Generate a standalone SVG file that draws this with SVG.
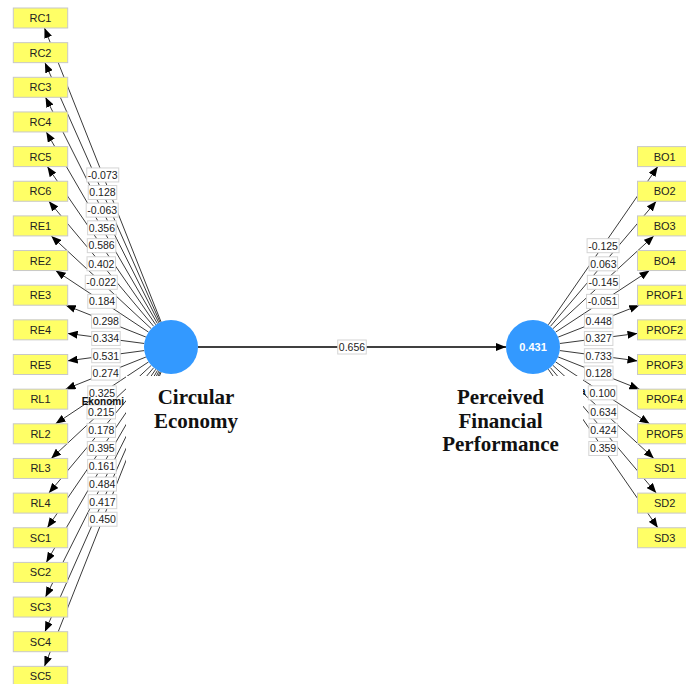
<svg xmlns="http://www.w3.org/2000/svg" width="686" height="684" viewBox="0 0 686 684">
<style>
.bg{fill:#ffffff}
.ind rect{fill:#ffff66;stroke:#c8c8c8;stroke-width:1}
.ind text{font-family:"Liberation Sans",Arial,sans-serif;font-size:11px;fill:#222;text-anchor:middle}
.edge{stroke:#3a3a3a;stroke-width:1;fill:none}
.main{stroke:#000;stroke-width:1.6;fill:none}
.lbl rect{fill:#fff;stroke:#d4d4d4;stroke-width:1}
.lbl text{font-family:"Liberation Sans",Arial,sans-serif;font-size:10.5px;fill:#222;text-anchor:middle}
.lv{fill:#3399ff}
.lvname{font-family:"Liberation Serif","Times New Roman",serif;font-weight:bold;font-size:21px;fill:#111;text-anchor:middle}
.cover{fill:#ffffff}
.ghost{font-family:"Liberation Sans",Arial,sans-serif;font-weight:bold;font-size:10px;fill:#111}
</style>
<defs>
<marker id="ah" markerUnits="userSpaceOnUse" markerWidth="10" markerHeight="8" refX="10" refY="4" orient="auto"><path d="M0,0 L10,4 L0,8 z" fill="#000"/></marker>
</defs>
<rect class="bg" x="0" y="0" width="686" height="684"/>
<g id="connectors">
<line class="edge" marker-end="url(#ah)" x1="161.04" y1="321.90" x2="44.47" y2="28.0"/>
<line class="edge" marker-end="url(#ah)" x1="160.06" y1="322.32" x2="44.94" y2="62.65"/>
<line class="edge" marker-end="url(#ah)" x1="158.88" y1="322.87" x2="45.52" y2="97.3"/>
<line class="edge" marker-end="url(#ah)" x1="157.46" y1="323.64" x2="46.29" y2="131.95"/>
<line class="edge" marker-end="url(#ah)" x1="155.74" y1="324.73" x2="47.35" y2="166.6"/>
<line class="edge" marker-end="url(#ah)" x1="153.66" y1="326.30" x2="48.88" y2="201.25"/>
<line class="edge" marker-end="url(#ah)" x1="151.21" y1="328.63" x2="51.28" y2="235.9"/>
<line class="edge" marker-end="url(#ah)" x1="148.49" y1="332.09" x2="55.60" y2="270.55"/>
<line class="edge" marker-end="url(#ah)" x1="145.90" y1="337.04" x2="65.70" y2="305.2"/>
<line class="edge" marker-end="url(#ah)" x1="144.23" y1="343.48" x2="67.7" y2="333.42"/>
<line class="edge" marker-end="url(#ah)" x1="144.24" y1="350.59" x2="67.7" y2="360.85"/>
<line class="edge" marker-end="url(#ah)" x1="145.93" y1="357.02" x2="65.53" y2="389.15"/>
<line class="edge" marker-end="url(#ah)" x1="148.52" y1="361.95" x2="55.53" y2="423.8"/>
<line class="edge" marker-end="url(#ah)" x1="151.23" y1="365.39" x2="51.24" y2="458.45"/>
<line class="edge" marker-end="url(#ah)" x1="153.68" y1="367.71" x2="48.87" y2="493.1"/>
<line class="edge" marker-end="url(#ah)" x1="155.76" y1="369.28" x2="47.34" y2="527.75"/>
<line class="edge" marker-end="url(#ah)" x1="157.47" y1="370.37" x2="46.29" y2="562.4"/>
<line class="edge" marker-end="url(#ah)" x1="158.89" y1="371.13" x2="45.52" y2="597.05"/>
<line class="edge" marker-end="url(#ah)" x1="160.07" y1="371.69" x2="44.92" y2="631.7"/>
<line class="edge" marker-end="url(#ah)" x1="161.05" y1="372.10" x2="44.47" y2="666.35"/>
<line class="edge" marker-end="url(#ah)" x1="548.36" y1="324.79" x2="657.79" y2="166.6"/>
<line class="edge" marker-end="url(#ah)" x1="550.43" y1="326.38" x2="656.24" y2="201.25"/>
<line class="edge" marker-end="url(#ah)" x1="552.87" y1="328.72" x2="653.82" y2="235.9"/>
<line class="edge" marker-end="url(#ah)" x1="555.57" y1="332.18" x2="649.46" y2="270.55"/>
<line class="edge" marker-end="url(#ah)" x1="558.13" y1="337.12" x2="639.27" y2="305.2"/>
<line class="edge" marker-end="url(#ah)" x1="559.77" y1="343.51" x2="637.5" y2="333.39"/>
<line class="edge" marker-end="url(#ah)" x1="559.76" y1="350.56" x2="637.5" y2="360.89"/>
<line class="edge" marker-end="url(#ah)" x1="558.1" y1="356.94" x2="639.44" y2="389.15"/>
<line class="edge" marker-end="url(#ah)" x1="555.54" y1="361.86" x2="649.53" y2="423.8"/>
<line class="edge" marker-end="url(#ah)" x1="552.85" y1="365.3" x2="653.86" y2="458.45"/>
<line class="edge" marker-end="url(#ah)" x1="550.41" y1="367.64" x2="656.26" y2="493.1"/>
<line class="edge" marker-end="url(#ah)" x1="548.34" y1="369.22" x2="657.8" y2="527.75"/>
<line class="main" marker-end="url(#ah)" x1="198" y1="347" x2="506" y2="347"/>
<g class="lbl">
<g transform="translate(102.76,174.95)"><rect x="-16" y="-7" width="32" height="14"/><text y="3.8">-0.073</text></g>
<g transform="translate(102.5,192.49)"><rect x="-14.25" y="-7" width="28.5" height="14"/><text y="3.8">0.128</text></g>
<g transform="translate(102.2,210.09)"><rect x="-16" y="-7" width="32" height="14"/><text y="3.8">-0.063</text></g>
<g transform="translate(101.88,227.8)"><rect x="-14.25" y="-7" width="28.5" height="14"/><text y="3.8">0.356</text></g>
<g transform="translate(101.55,245.67)"><rect x="-14.25" y="-7" width="28.5" height="14"/><text y="3.8">0.586</text></g>
<g transform="translate(101.27,263.78)"><rect x="-14.25" y="-7" width="28.5" height="14"/><text y="3.8">0.402</text></g>
<g transform="translate(101.25,282.27)"><rect x="-16" y="-7" width="32" height="14"/><text y="3.8">-0.022</text></g>
<g transform="translate(102.05,301.32)"><rect x="-14.25" y="-7" width="28.5" height="14"/><text y="3.8">0.184</text></g>
<g transform="translate(105.8,321.12)"><rect x="-14.25" y="-7" width="28.5" height="14"/><text y="3.8">0.298</text></g>
<g transform="translate(105.97,338.45)"><rect x="-14.25" y="-7" width="28.5" height="14"/><text y="3.8">0.334</text></g>
<g transform="translate(105.97,355.72)"><rect x="-14.25" y="-7" width="28.5" height="14"/><text y="3.8">0.531</text></g>
<g transform="translate(105.73,373.09)"><rect x="-14.25" y="-7" width="28.5" height="14"/><text y="3.8">0.274</text></g>
<g transform="translate(102.03,392.88)"><rect x="-14.25" y="-7" width="28.5" height="14"/><text y="3.8">0.325</text></g>
<g transform="translate(101.24,411.92)"><rect x="-14.25" y="-7" width="28.5" height="14"/><text y="3.8">0.215</text></g>
<g transform="translate(101.28,430.41)"><rect x="-14.25" y="-7" width="28.5" height="14"/><text y="3.8">0.178</text></g>
<g transform="translate(101.55,448.52)"><rect x="-14.25" y="-7" width="28.5" height="14"/><text y="3.8">0.395</text></g>
<g transform="translate(101.88,466.39)"><rect x="-14.25" y="-7" width="28.5" height="14"/><text y="3.8">0.161</text></g>
<g transform="translate(102.2,484.09)"><rect x="-14.25" y="-7" width="28.5" height="14"/><text y="3.8">0.484</text></g>
<g transform="translate(102.5,501.7)"><rect x="-14.25" y="-7" width="28.5" height="14"/><text y="3.8">0.417</text></g>
<g transform="translate(102.76,519.23)"><rect x="-14.25" y="-7" width="28.5" height="14"/><text y="3.8">0.450</text></g>
<g transform="translate(603.08,245.7)"><rect x="-16" y="-7" width="32" height="14"/><text y="3.8">-0.125</text></g>
<g transform="translate(603.34,263.82)"><rect x="-14.25" y="-7" width="28.5" height="14"/><text y="3.8">0.063</text></g>
<g transform="translate(603.35,282.31)"><rect x="-16" y="-7" width="32" height="14"/><text y="3.8">-0.145</text></g>
<g transform="translate(602.52,301.37)"><rect x="-16" y="-7" width="32" height="14"/><text y="3.8">-0.051</text></g>
<g transform="translate(598.7,321.16)"><rect x="-14.25" y="-7" width="28.5" height="14"/><text y="3.8">0.448</text></g>
<g transform="translate(598.64,338.45)"><rect x="-14.25" y="-7" width="28.5" height="14"/><text y="3.8">0.327</text></g>
<g transform="translate(598.63,355.73)"><rect x="-14.25" y="-7" width="28.5" height="14"/><text y="3.8">0.733</text></g>
<g transform="translate(598.77,373.05)"><rect x="-14.25" y="-7" width="28.5" height="14"/><text y="3.8">0.128</text></g>
<g transform="translate(602.54,392.83)"><rect x="-14.25" y="-7" width="28.5" height="14"/><text y="3.8">0.100</text></g>
<g transform="translate(603.36,411.88)"><rect x="-14.25" y="-7" width="28.5" height="14"/><text y="3.8">0.634</text></g>
<g transform="translate(603.34,430.37)"><rect x="-14.25" y="-7" width="28.5" height="14"/><text y="3.8">0.424</text></g>
<g transform="translate(603.07,448.49)"><rect x="-14.25" y="-7" width="28.5" height="14"/><text y="3.8">0.359</text></g>
<g transform="translate(352,347)"><rect x="-14.25" y="-7" width="28.5" height="14"/><text y="3.8">0.656</text></g>
</g>
</g>
<g id="circular-economy">
<text class="ghost" x="81.7" y="404.5">Ekonomi</text>
<rect class="cover" x="126" y="376" width="150" height="86"/>
<circle class="lv" cx="171" cy="347" r="27"/>
<text class="lvname" x="196" y="404">Circular</text>
<text class="lvname" x="196" y="427.5">Economy</text>
</g>
<g id="perceived-financial-performance">
<text class="ghost" x="580" y="395" font-size="11">a</text>
<rect class="cover" x="417" y="376" width="166" height="86"/>
<circle class="lv" cx="533" cy="347" r="27"/>
<text x="533" y="351" font-family="'Liberation Sans',Arial,sans-serif" font-size="11" font-weight="bold" fill="#fff" text-anchor="middle">0.431</text>
<text class="lvname" x="500.5" y="404">Perceived</text>
<text class="lvname" x="500.5" y="428">Financial</text>
<text class="lvname" x="500.5" y="451">Performance</text>
</g>
<g class="ind">
<g id="RC1"><rect x="13.3" y="8" width="54.4" height="20"/><text x="40.5" y="22">RC1</text></g>
<g id="RC2"><rect x="13.3" y="42.65" width="54.4" height="20"/><text x="40.5" y="56.65">RC2</text></g>
<g id="RC3"><rect x="13.3" y="77.3" width="54.4" height="20"/><text x="40.5" y="91.3">RC3</text></g>
<g id="RC4"><rect x="13.3" y="111.95" width="54.4" height="20"/><text x="40.5" y="125.95">RC4</text></g>
<g id="RC5"><rect x="13.3" y="146.6" width="54.4" height="20"/><text x="40.5" y="160.6">RC5</text></g>
<g id="RC6"><rect x="13.3" y="181.25" width="54.4" height="20"/><text x="40.5" y="195.25">RC6</text></g>
<g id="RE1"><rect x="13.3" y="215.9" width="54.4" height="20"/><text x="40.5" y="229.9">RE1</text></g>
<g id="RE2"><rect x="13.3" y="250.55" width="54.4" height="20"/><text x="40.5" y="264.55">RE2</text></g>
<g id="RE3"><rect x="13.3" y="285.2" width="54.4" height="20"/><text x="40.5" y="299.2">RE3</text></g>
<g id="RE4"><rect x="13.3" y="319.85" width="54.4" height="20"/><text x="40.5" y="333.85">RE4</text></g>
<g id="RE5"><rect x="13.3" y="354.5" width="54.4" height="20"/><text x="40.5" y="368.5">RE5</text></g>
<g id="RL1"><rect x="13.3" y="389.15" width="54.4" height="20"/><text x="40.5" y="403.15">RL1</text></g>
<g id="RL2"><rect x="13.3" y="423.8" width="54.4" height="20"/><text x="40.5" y="437.8">RL2</text></g>
<g id="RL3"><rect x="13.3" y="458.45" width="54.4" height="20"/><text x="40.5" y="472.45">RL3</text></g>
<g id="RL4"><rect x="13.3" y="493.1" width="54.4" height="20"/><text x="40.5" y="507.1">RL4</text></g>
<g id="SC1"><rect x="13.3" y="527.75" width="54.4" height="20"/><text x="40.5" y="541.75">SC1</text></g>
<g id="SC2"><rect x="13.3" y="562.4" width="54.4" height="20"/><text x="40.5" y="576.4">SC2</text></g>
<g id="SC3"><rect x="13.3" y="597.05" width="54.4" height="20"/><text x="40.5" y="611.05">SC3</text></g>
<g id="SC4"><rect x="13.3" y="631.7" width="54.4" height="20"/><text x="40.5" y="645.7">SC4</text></g>
<g id="SC5"><rect x="13.3" y="666.35" width="54.4" height="20"/><text x="40.5" y="680.35">SC5</text></g>
<g id="BO1"><rect x="637.5" y="146.6" width="54.4" height="20"/><text x="664.7" y="160.6">BO1</text></g>
<g id="BO2"><rect x="637.5" y="181.25" width="54.4" height="20"/><text x="664.7" y="195.25">BO2</text></g>
<g id="BO3"><rect x="637.5" y="215.9" width="54.4" height="20"/><text x="664.7" y="229.9">BO3</text></g>
<g id="BO4"><rect x="637.5" y="250.55" width="54.4" height="20"/><text x="664.7" y="264.55">BO4</text></g>
<g id="PROF1"><rect x="637.5" y="285.2" width="54.4" height="20"/><text x="664.7" y="299.2">PROF1</text></g>
<g id="PROF2"><rect x="637.5" y="319.85" width="54.4" height="20"/><text x="664.7" y="333.85">PROF2</text></g>
<g id="PROF3"><rect x="637.5" y="354.5" width="54.4" height="20"/><text x="664.7" y="368.5">PROF3</text></g>
<g id="PROF4"><rect x="637.5" y="389.15" width="54.4" height="20"/><text x="664.7" y="403.15">PROF4</text></g>
<g id="PROF5"><rect x="637.5" y="423.8" width="54.4" height="20"/><text x="664.7" y="437.8">PROF5</text></g>
<g id="SD1"><rect x="637.5" y="458.45" width="54.4" height="20"/><text x="664.7" y="472.45">SD1</text></g>
<g id="SD2"><rect x="637.5" y="493.1" width="54.4" height="20"/><text x="664.7" y="507.1">SD2</text></g>
<g id="SD3"><rect x="637.5" y="527.75" width="54.4" height="20"/><text x="664.7" y="541.75">SD3</text></g>
</g>
</svg>
